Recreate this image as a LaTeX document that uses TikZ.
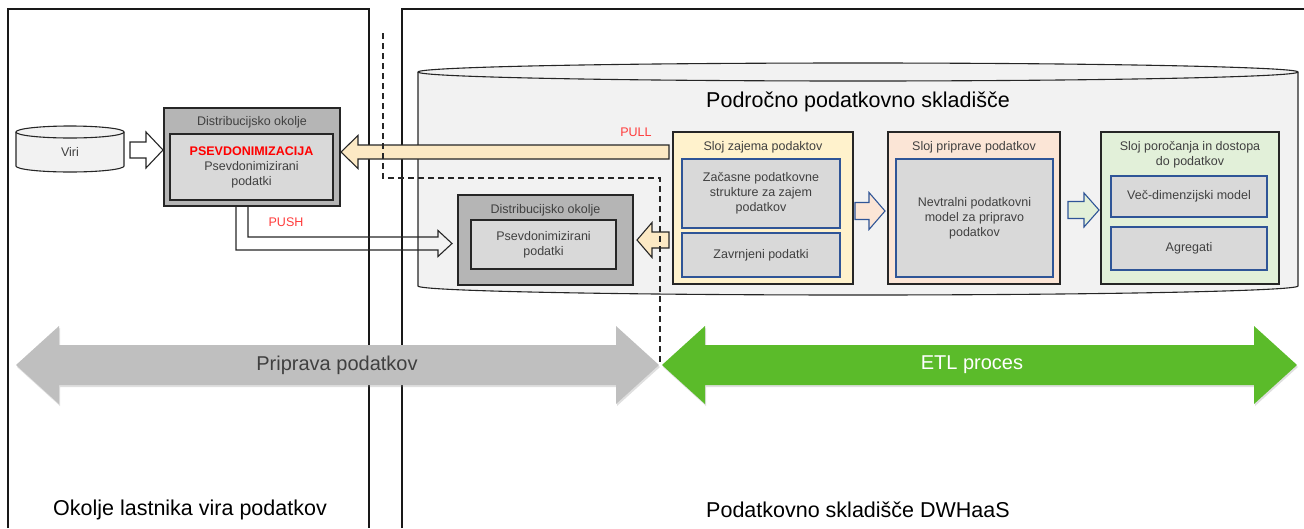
\documentclass[tikz,border=0pt]{standalone}
\usepackage{fontspec}
\setmainfont{Liberation Sans}
\usetikzlibrary{calc,shadows}

\definecolor{txtgray}{HTML}{404040}
\definecolor{distdark}{HTML}{B5B5B5}
\definecolor{distlight}{HTML}{D9D9D9}
\definecolor{drumgray}{HTML}{F2F2F2}
\definecolor{capyellow}{HTML}{FFF2CC}
\definecolor{pullyellow}{HTML}{FCE9C4}
\definecolor{peach}{HTML}{FBE5D6}
\definecolor{mint}{HTML}{E2F0D9}
\definecolor{cellblue}{HTML}{2F5597}
\definecolor{arrgray}{HTML}{BFBFBF}
\definecolor{etlgreen}{HTML}{5BBB2A}
\definecolor{tagred}{HTML}{FF3B3B}

\def\drum[#1](#2)(#3:#4){\draw[#1] (#2.north west) -- (#2.south west) arc[start angle=180, end angle=0, x radius=#3, y radius=#4] -- (#2.north east) arc[start angle=0, end angle=-180, x radius=#3, y radius=#4] -- cycle;
	\draw[#1, fill=none] (#2.north west) arc[start angle=180, end angle=0, x radius=#3, y radius=#4];}
\def\blockarrow[#1](#2)(#3)(#4:#5:#6){\draw[#1] let \p1=(#2), \p2=(#3), \n1={ifthenelse(\x2>\x1,1,-1)*#6pt} in (\x1,\y2+#4pt) -- (\x2-\n1,\y2+#4pt) -- (\x2-\n1,\y2+#5pt) -- (\x2,\y2) -- (\x2-\n1,\y2-#5pt) -- (\x2-\n1,\y2-#4pt) -- (\x1,\y2-#4pt) -- cycle;}
\def\dblarrow[#1](#2)(#3)(#4:#5:#6){\fill[#1] let \p1=(#2), \p2=(#3) in (\x1,\y1) -- (\x1+#6pt,\y1+#5pt) -- (\x1+#6pt,\y1+#4pt) -- (\x2-#6pt,\y1+#4pt) -- (\x2-#6pt,\y1+#5pt) -- (\x2,\y1) -- (\x2-#6pt,\y1-#5pt) -- (\x2-#6pt,\y1-#4pt) -- (\x1+#6pt,\y1-#4pt) -- (\x1+#6pt,\y1-#5pt) -- cycle;}

\tikzset{
	frameline/.style={line width=1.3pt, black!90},
	sz/.style 2 args={minimum width=#1pt, minimum height=#2pt},
	small/.style={font=\fontsize{12.5}{15}\selectfont, text=txtgray, align=center},
	big/.style={font=\fontsize{21.5}{24}\selectfont, text=black},
	plainbox/.style={inner sep=0pt, outer sep=0pt},
	distouter/.style={plainbox, draw=black!85, line width=1.2pt, fill=distdark},
	distinner/.style={plainbox, draw=black!85, line width=1.2pt, fill=distlight, small},
	layer/.style={plainbox, draw=black!85, line width=1.1pt},
	cell/.style={plainbox, draw=cellblue, line width=1.1pt, fill=distlight, small},
	arrowline/.style={draw=black!85, line width=1.1pt},
	cellarrow/.style={draw=cellblue, line width=1.1pt},
	dashline/.style={line width=1.2pt, black!85, dash pattern=on 6pt off 4pt},
	wide/.style={draw=none, drop shadow={opacity=0.25, shadow xshift=1pt, shadow yshift=-2pt}},
	redtag/.style={font=\fontsize{12.5}{15}\selectfont, text=tagred},
}

\begin{document}
\begin{tikzpicture}[x=1pt, y=-1pt]
		%%%%% START %%%%%
		\useasboundingbox (0,0) rectangle (1304,528);
		
		\draw[frameline] (8,528) -- (8,9) -- (369,9) -- (369,528);
		\draw[frameline] (402,528) -- (402,9) -- (1304,9);
		
		\coordinate (prepL) at (16,365);
		\coordinate (prepR) at (659,365);
		\coordinate (etlL) at (662,365);
		\coordinate (etlR) at (1297,365);
		\dblarrow[fill=arrgray, wide](prepL)(prepR)(20:39:43)
		\dblarrow[fill=etlgreen, wide](etlL)(etlR)(20:39:43)
		\node[font=\fontsize{20}{24}\selectfont, text=txtgray] (preplabel) at (337,365) {Priprava podatkov};
		\node[font=\fontsize{20}{24}\selectfont, text=white] (etllabel) at (972,365) {ETL proces};
		
		\node[plainbox, sz={880}{214}] (dwh) at (858,179) {};
		\drum[draw=black!85, line width=1.1pt, fill=drumgray](dwh)(440:9)
		\node[big] (dwhtitle) at (858,102) {Področno podatkovno skladišče};
		
		\node[plainbox, sz={108}{34}] (viri) at (70,149) {};
		\drum[draw=black!85, line width=1.1pt, fill=drumgray](viri)(54:6)
		\node[small] (virilabel) at (70,152) {Viri};
		
		\node[distouter, sz={176}{98}] (distA) at (252,157) {};
		\node[small] (distAtitle) at (252,122) {Distribucijsko okolje};
		\node[distinner, sz={163}{66}] (distAin) at (251.5,167) {\textbf{\color{red}PSEVDONIMIZACIJA}\\Psevdonimizirani\\podatki};
		
		\node[distouter, sz={175}{90}] (distB) at (545.5,240) {};
		\node[small] (distBtitle) at (545.5,210) {Distribucijsko okolje};
		\node[distinner, sz={145}{49}] (distBin) at (543.5,244.5) {Psevdonimizirani\\podatki};
		
		\node[layer, fill=capyellow, sz={180}{152}] (capture) at (763,208) {};
		\node[small] (capturetitle) at (763,147) {Sloj zajema podaktov};
		\node[cell, sz={158}{69}] (tempcell) at (761,193.5) {Začasne podatkovne\\strukture za zajem\\podatkov};
		\node[cell, sz={158}{44}] (rejectcell) at (761,255) {Zavrnjeni podatki};
		
		\node[layer, fill=peach, sz={172}{152}] (prep) at (974,208) {};
		\node[small] (preptitle) at (974,147) {Sloj priprave podatkov};
		\node[cell, sz={157}{118}] (neutralcell) at (974.5,218) {Nevtralni podatkovni\\model za pripravo\\podatkov};
		
		\node[layer, fill=mint, sz={178}{152}] (report) at (1190,208) {};
		\node[small] (reporttitle) at (1190,155) {Sloj poročanja in dostopa\\do podatkov};
		\node[cell, sz={156}{41}] (dimcell) at (1189,196.5) {Več-dimenzijski model};
		\node[cell, sz={156}{43}] (aggcell) at (1189,248.5) {Agregati};
		
		\blockarrow[arrowline, fill=white]($(viri.east)+(6,0)$)($(distA.west)+(-1,-7)$)(8:18:17)
		\blockarrow[arrowline, fill=pullyellow]($(capture.west)+(-4,0)$)($(distA.east)+(1,-5)$)(7:16.5:17)
		\blockarrow[arrowline, fill=pullyellow]($(capture.west)+(-4,0)$)($(distB.east)+(4,0)$)(8:17.5:15)
		\blockarrow[cellarrow, fill=peach]($(capture.east)+(2,0)$)($(prep.west)+(-3,3)$)(8.5:18.5:16)
		\blockarrow[cellarrow, fill=mint]($(prep.east)+(8,0)$)($(report.west)+(-2,2)$)(8.5:17:15)
		
		\draw[arrowline] let \p1=(distA.south), \p2=($(distB.west)+(-6,3.5)$) in (\x1-16pt,\y1) -- (\x1-16pt,\y2-6.5pt) -- (\x2-14pt,\y2-6.5pt) -- (\x2-14pt,\y2-13pt) -- (\x2,\y2) -- (\x2-14pt,\y2+13pt) -- (\x2-14pt,\y2+6.5pt) -- (\x1-4pt,\y2+6.5pt) -- (\x1-4pt,\y1);
		
		\node[redtag] (pulltag) at (636,132) {PULL};
		\node[redtag] (pushtag) at (286,222) {PUSH};
		
		\draw[dashline] (383,33) -- (383,178) -- (660,178) -- (660,362);
		
		\node[big] (ownerlabel) at (190,510) {Okolje lastnika vira podatkov};
		\node[big] (dwhlabel) at (858,510) {Podatkovno skladišče DWHaaS};
		%%%%% END %%%%%
\end{tikzpicture}
\end{document}
